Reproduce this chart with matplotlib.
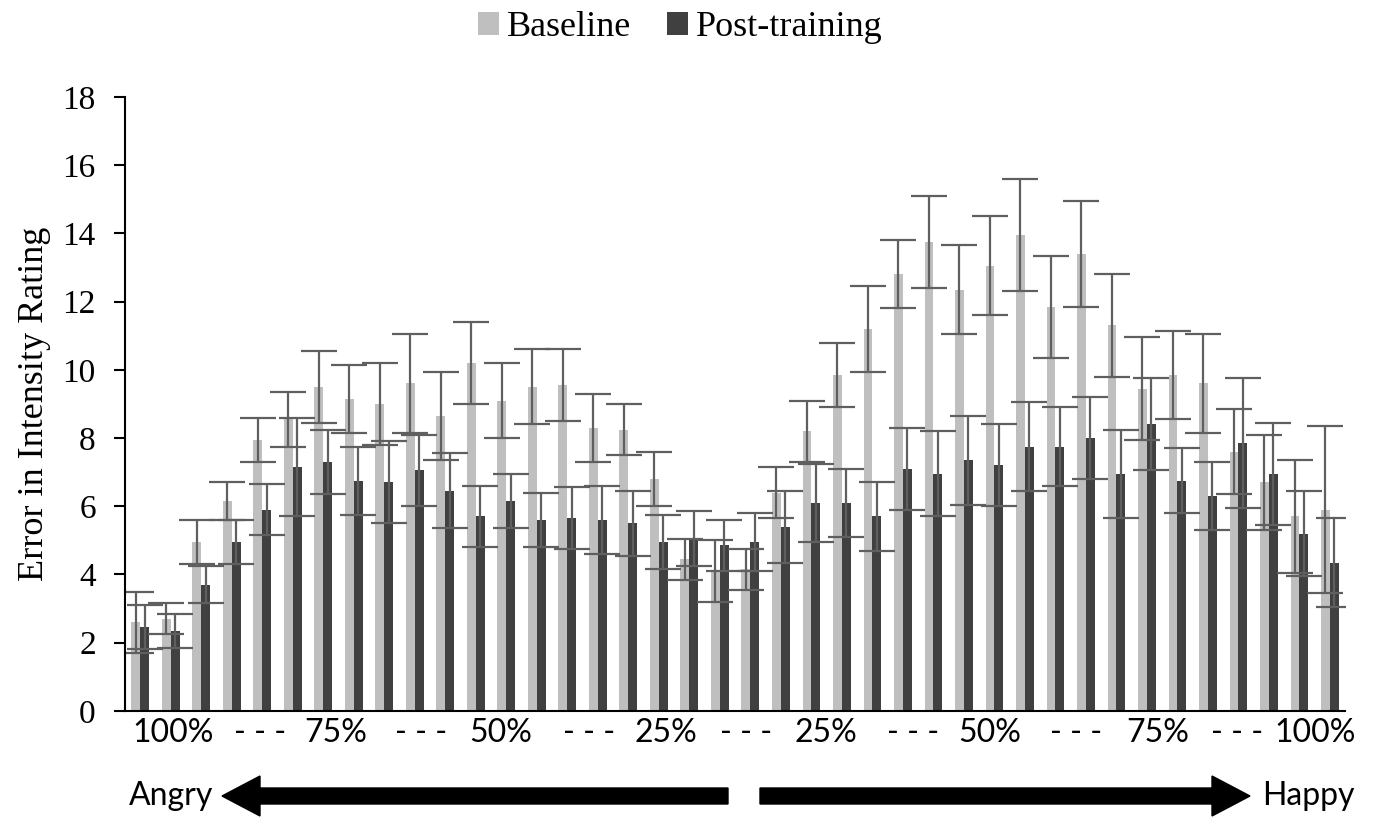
import matplotlib.pyplot as plt
import numpy as np
from matplotlib.patches import FancyArrow

baseline = [2.6, 2.7, 4.95, 6.15, 7.95, 8.55, 9.5, 9.15, 9.0, 9.6,
            8.65, 10.2, 9.1, 9.5, 9.55, 8.3, 8.25, 6.8, 4.45, 4.1,
            4.15, 6.4, 8.2, 9.85, 11.2, 12.8, 13.75, 12.35, 13.05, 13.95,
            11.85, 13.4, 11.3, 9.45, 9.85, 9.6, 7.6, 6.7, 5.7, 5.9]
baseline_err = [0.9, 0.45, 0.65, 0.55, 0.65, 0.8, 1.05, 1.0, 1.2, 1.45,
                1.3, 1.2, 1.1, 1.1, 1.05, 1.0, 0.75, 0.8, 0.6, 0.9,
                0.6, 0.75, 0.9, 0.95, 1.25, 1.0, 1.35, 1.3, 1.45, 1.65,
                1.5, 1.55, 1.5, 1.5, 1.3, 1.45, 1.25, 1.4, 1.65, 2.45]
post = [2.45, 2.35, 3.7, 4.95, 5.9, 7.15, 7.3, 6.75, 6.7, 7.05,
        6.45, 5.7, 6.15, 5.6, 5.65, 5.6, 5.5, 4.95, 5.05, 4.85,
        4.95, 5.4, 6.1, 6.1, 5.7, 7.1, 6.95, 7.35, 7.2, 7.75,
        7.75, 8.0, 6.95, 8.4, 6.75, 6.3, 7.85, 6.95, 5.2, 4.35]
post_err = [0.65, 0.5, 0.55, 0.65, 0.75, 1.45, 0.95, 1.0, 1.2, 1.05,
            1.1, 0.9, 0.8, 0.8, 0.9, 1.0, 0.95, 0.8, 0.8, 0.75,
            0.85, 1.05, 1.15, 1.0, 1.0, 1.2, 1.25, 1.3, 1.2, 1.3,
            1.15, 1.2, 1.3, 1.35, 0.95, 1.0, 1.9, 1.5, 1.25, 1.3]

label_pos = [1.06, 3.93, 6.42, 9.22, 11.83, 14.70, 17.24, 19.85,
             22.48, 25.34, 27.86, 30.68, 33.34, 35.96, 38.53]
label_txt = ["100%", "- - -", "75%", "- - -", "50%", "- - -", "25%", "- - -",
             "25%", "- - -", "50%", "- - -", "75%", "- - -", "100%"]

serif = "Liberation Serif"
sans = "Lato"

fig = plt.figure(figsize=(13.74, 8.19), dpi=100)
ax = fig.add_axes([0.091, 0.132, 0.888, 0.7496])

x = np.arange(len(baseline))
w = 0.29
err_kw = dict(ecolor="#5f5f5f", elinewidth=1.6, capsize=13, capthick=1.6)

ax.bar(x - w/2, baseline, w, color="#bfbfbf", label="Baseline",
       yerr=baseline_err, error_kw=err_kw)
ax.bar(x + w/2, post, w, color="#404040", label="Post-training",
       yerr=post_err, error_kw=err_kw)

ax.set_xlim(-0.5, len(baseline) - 0.5)
ax.set_ylim(0, 18)
ax.set_yticks(np.arange(0, 19, 2))
ax.set_yticklabels([str(v) for v in range(0, 19, 2)], family=serif, fontsize=24)
ax.tick_params(axis="y", direction="out", length=8, width=1.5, pad=13)
ax.set_ylabel("Error in Intensity Rating", family=serif, fontsize=26, labelpad=8)

ax.set_xticks(label_pos)
ax.set_xticklabels(label_txt, family=sans, fontsize=23)
ax.tick_params(axis="x", length=0, pad=5)

for s in ["top", "right"]:
    ax.spines[s].set_visible(False)
for s in ["left", "bottom"]:
    ax.spines[s].set_linewidth(1.5)

fig.legend(loc="center", bbox_to_anchor=(680/1374, 1 - 28/819), ncol=2,
           frameon=False, prop={"family": serif, "size": 26},
           handlelength=0.6, handleheight=0.6, handletextpad=0.2,
           columnspacing=1.0)

# direction arrows under the axis
ay = 1 - 796/819
fig.add_artist(FancyArrow(728/1374, ay, (222 - 728)/1374, 0, width=16/819,
                          head_width=40/819, head_length=38/1374,
                          length_includes_head=True, color="black",
                          transform=fig.transFigure))
fig.add_artist(FancyArrow(760/1374, ay, (1250 - 760)/1374, 0, width=16/819,
                          head_width=40/819, head_length=38/1374,
                          length_includes_head=True, color="black",
                          transform=fig.transFigure))
fig.text(213/1374, ay, "Angry", family=sans, fontsize=23, ha="right", va="center")
fig.text(1262/1374, ay, "Happy", family=sans, fontsize=23, ha="left", va="center")

fig.savefig("out.png", dpi=100)
